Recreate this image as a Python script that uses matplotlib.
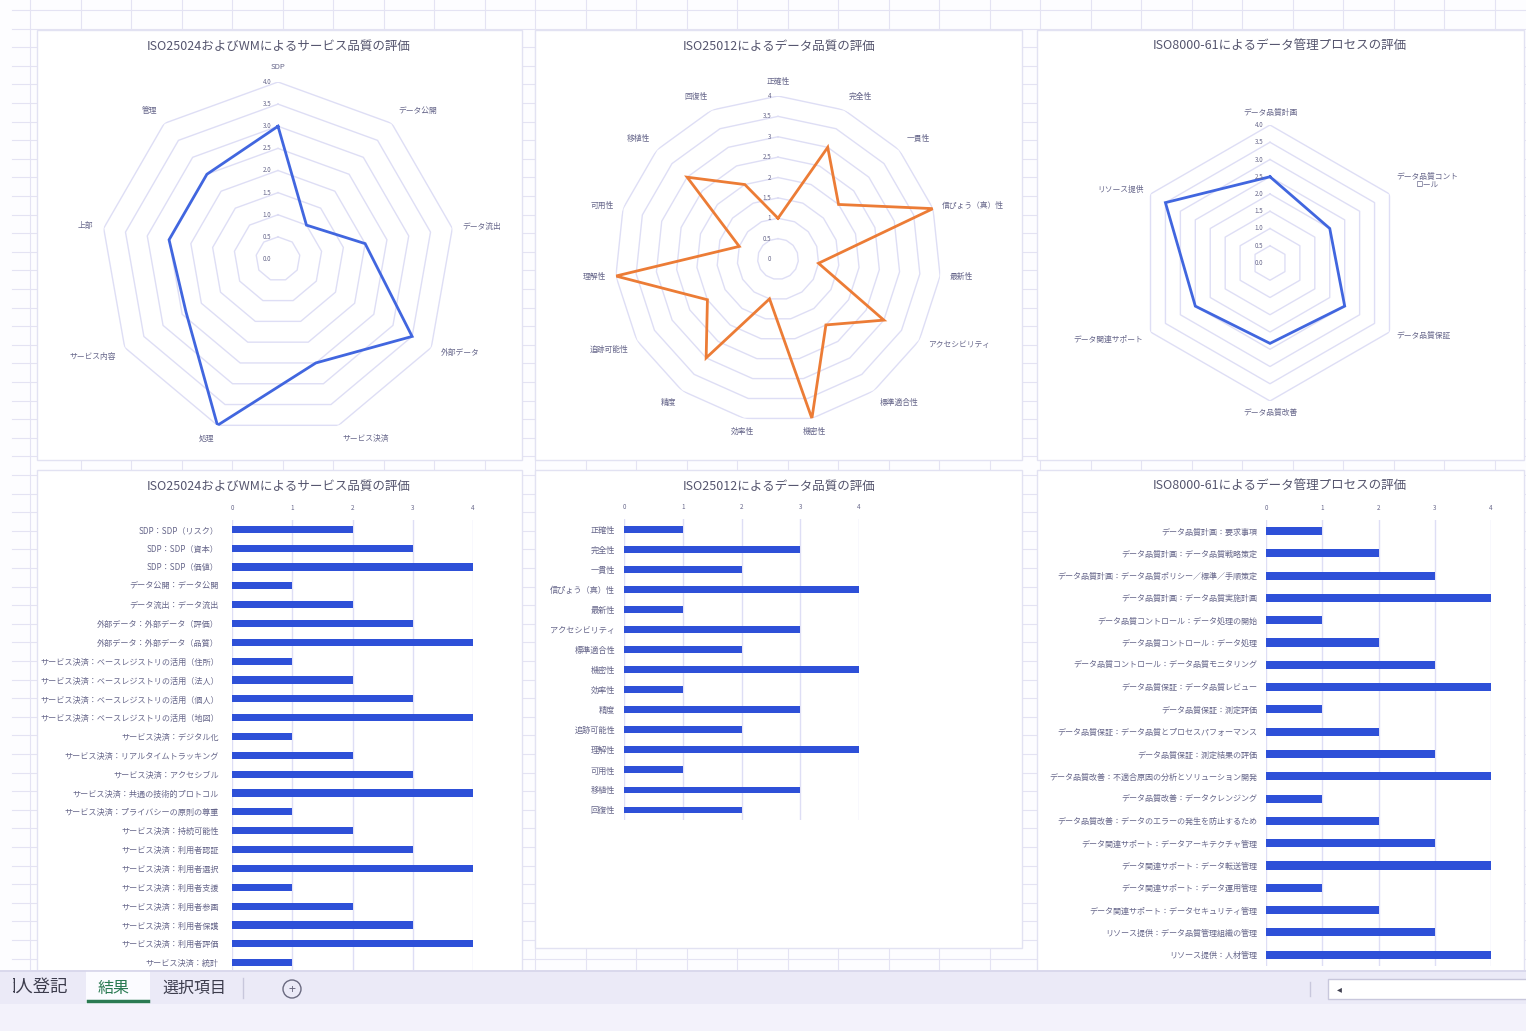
import matplotlib
matplotlib.use("Agg")
import matplotlib.pyplot as plt
import numpy as np
from matplotlib.patches import Rectangle, Circle

plt.rcParams['font.family'] = ['Noto Sans CJK JP', 'DejaVu Sans']

W, H = 1526, 1031

# ---------------- data ----------------
radar1_title = "ISO25024およびWMによるサービス品質の評価"
radar1_labels = ["SDP", "データ公開", "データ流出", "外部データ", "サービス決済",
                 "処理", "サービス内容", "上部", "管理"]
radar1_values = [3.0, 1.0, 2.0, 3.5, 2.5, 4.0, 2.4, 2.5, 2.5]
radar1_ticks = ["0.0", "0.5", "1.0", "1.5", "2.0", "2.5", "3.0", "3.5", "4.0"]

radar2_title = "ISO25012によるデータ品質の評価"
radar2_labels = ["正確性", "完全性", "一貫性", "信ぴょう（真）性", "最新性", "アクセシビリティ",
                 "標準適合性", "機密性", "効率性", "精度", "追跡可能性", "理解性",
                 "可用性", "移植性", "回復性"]
radar2_values = [1, 3, 2, 4, 1, 3, 2, 4, 1, 3, 2, 4, 1, 3, 2]
radar2_ticks = ["0", "0.5", "1", "1.5", "2", "2.5", "3", "3.5", "4"]

radar3_title = "ISO8000-61によるデータ管理プロセスの評価"
radar3_labels = ["データ品質計画", "データ品質コント\nロール", "データ品質保証",
                 "データ品質改善", "データ関連サポート", "リソース提供"]
radar3_values = [2.5, 2.0, 2.5, 2.33, 2.5, 3.5]
radar3_ticks = ["0.0", "0.5", "1.0", "1.5", "2.0", "2.5", "3.0", "3.5", "4.0"]

bar1_labels = ["SDP：SDP（リスク）", "SDP：SDP（資本）", "SDP：SDP（価値）",
               "データ公開：データ公開", "データ流出：データ流出",
               "外部データ：外部データ（評価）", "外部データ：外部データ（品質）",
               "サービス決済：ベースレジストリの活用（住所）",
               "サービス決済：ベースレジストリの活用（法人）",
               "サービス決済：ベースレジストリの活用（個人）",
               "サービス決済：ベースレジストリの活用（地図）",
               "サービス決済：デジタル化", "サービス決済：リアルタイムトラッキング",
               "サービス決済：アクセシブル", "サービス決済：共通の技術的プロトコル",
               "サービス決済：プライバシーの原則の尊重", "サービス決済：持続可能性",
               "サービス決済：利用者認証", "サービス決済：利用者選択",
               "サービス決済：利用者支援", "サービス決済：利用者参画",
               "サービス決済：利用者保護", "サービス決済：利用者評価",
               "サービス決済：統計"]
bar1_values = [2, 3, 4, 1, 2, 3, 4, 1, 2, 3, 4, 1, 2, 3, 4, 1, 2, 3, 4, 1, 2, 3, 4, 1]

bar2_labels = radar2_labels
bar2_values = radar2_values

bar3_labels = ["データ品質計画：要求事項", "データ品質計画：データ品質戦略策定",
               "データ品質計画：データ品質ポリシー／標準／手順策定",
               "データ品質計画：データ品質実施計画",
               "データ品質コントロール：データ処理の開始",
               "データ品質コントロール：データ処理",
               "データ品質コントロール：データ品質モニタリング",
               "データ品質保証：データ品質レビュー", "データ品質保証：測定評価",
               "データ品質保証：データ品質とプロセスパフォーマンス",
               "データ品質保証：測定結果の評価",
               "データ品質改善：不適合原因の分析とソリューション開発",
               "データ品質改善：データクレンジング",
               "データ品質改善：データのエラーの発生を防止するため",
               "データ関連サポート：データアーキテクチャ管理",
               "データ関連サポート：データ転送管理",
               "データ関連サポート：データ運用管理",
               "データ関連サポート：データセキュリティ管理",
               "リソース提供：データ品質管理組織の管理", "リソース提供：人材管理"]
bar3_values = [1, 2, 3, 4, 1, 2, 3, 4, 1, 2, 3, 4, 1, 2, 3, 4, 1, 2, 3, 4]

bar_ticks = [0, 1, 2, 3, 4]

# ---------------- style ----------------
GRID = "#e4e3f3"
RING = "#dedef5"
TXT = "#66668a"
TITLE = "#55556e"
BLUE_LINE = "#4166df"
BAR = "#2e50d8"
ORANGE = "#ec7c36"
PANEL_EDGE = "#e2e2f2"

fig = plt.figure(figsize=(W / 100, H / 100), dpi=100)
fig.patch.set_facecolor("#fdfdff")


def fax(x0, y0, x1, y1):
    return [x0 / W, 1 - y1 / H, (x1 - x0) / W, (y1 - y0) / H]


bg = fig.add_axes([0, 0, 1, 1])
bg.set_xlim(0, W)
bg.set_ylim(H, 0)
bg.axis("off")

# spreadsheet grid
for x in np.arange(30, W, 50.5):
    bg.plot([x, x], [0, 972], color=GRID, lw=0.8, zorder=0)
for y in np.arange(10, 972, 18.6):
    bg.plot([12, W], [y, y], color=GRID, lw=0.8, zorder=0)

panels = [(37, 30, 522, 460), (535, 30, 1022, 460), (1037, 30, 1524, 460),
          (37, 470, 522, 990), (535, 470, 1022, 948), (1037, 470, 1524, 990)]
for (x0, y0, x1, y1) in panels:
    bg.add_patch(Rectangle((x0, y0), x1 - x0, y1 - y0, facecolor="white",
                           edgecolor=PANEL_EDGE, lw=1.0, zorder=1))

titles = [(279, 46, radar1_title), (779, 46, radar2_title), (1280, 46, radar3_title),
          (279, 486, radar1_title), (779, 486, radar2_title), (1280, 486, radar3_title)]
for (x, y, t) in titles:
    bg.text(x, y, t, ha="center", va="center", fontsize=9.0, color=TITLE, zorder=2)


def radar(cx, cy, rpx, labels, values, ticks, color, lab_r, tick_off):
    ax = fig.add_axes(fax(cx - rpx, cy - rpx, cx + rpx, cy + rpx), projection="polar")
    ax.set_theta_zero_location("N")
    ax.set_theta_direction(-1)
    ax.set_ylim(0, 4)
    ax.axis("off")
    ax.patch.set_visible(False)
    n = len(labels)
    ang = np.linspace(0, 2 * np.pi, n, endpoint=False)
    closed = np.append(ang, ang[0])
    levels = np.arange(0.5, 4.01, 0.5)
    for r in levels:
        ax.plot(closed, [r] * (n + 1), color=RING, lw=1.0, zorder=1)
    vals = list(values) + [values[0]]
    ax.plot(closed, vals, color=color, lw=2.0, zorder=3, solid_joinstyle="miter")
    for r, t in zip(np.arange(0, 4.01, 0.5), ticks):
        ax.annotate(t, xy=(0, r), xytext=(-tick_off, 0), textcoords="offset points",
                    ha="right", va="center", fontsize=4.5, color=TXT, zorder=4)
    for a, lab in zip(ang, labels):
        s, c = np.sin(a), np.cos(a)
        ha = "left" if s > 0.3 else ("right" if s < -0.3 else "center")
        va = "bottom" if c > 0.5 else ("top" if c < -0.5 else "center")
        ax.text(a, 4 * lab_r, lab, ha=ha, va=va, fontsize=5.6, color=TXT,
                multialignment="center")
    return ax


radar(278, 259, 177, radar1_labels, radar1_values, radar1_ticks, BLUE_LINE, 1.06, 5)
radar(778, 259, 163, radar2_labels, radar2_values, radar2_ticks, ORANGE, 1.06, 5)
radar(1270, 263, 138, radar3_labels, radar3_values, radar3_ticks, BLUE_LINE, 1.06, 5)


def barchart(x0, x1, y_first, spacing, labels, values, hfrac, ypad, fs):
    n = len(labels)
    ytop = y_first - spacing / 2
    ybot = y_first + (n - 0.5) * spacing
    ax = fig.add_axes(fax(x0, ytop, x1, ybot))
    ax.patch.set_visible(False)
    ax.barh(np.arange(n), values, height=hfrac, color=BAR, zorder=3)
    ax.set_xlim(0, 4)
    ax.set_ylim(n - 0.5, -0.5)
    ax.set_yticks(np.arange(n))
    ax.set_yticklabels(labels, fontsize=fs, color=TXT)
    ax.xaxis.tick_top()
    ax.set_xticks(bar_ticks)
    ax.set_xticklabels([str(t) for t in bar_ticks], fontsize=4.5, color=TXT)
    ax.tick_params(axis="x", length=0, pad=6)
    ax.tick_params(axis="y", length=0, pad=ypad)
    ax.grid(axis="x", color=RING, lw=1.0, zorder=0)
    for sp in ax.spines.values():
        sp.set_visible(False)
    return ax


barchart(232, 473, 529.3, 18.84, bar1_labels, bar1_values, 0.38, 9.5, 5.85)
barchart(624, 859, 529.3, 20.05, bar2_labels, bar2_values, 0.34, 6.5, 5.9)
barchart(1266, 1491, 531, 22.3, bar3_labels, bar3_values, 0.36, 6.5, 5.8)

# ---------------- sheet tab bar ----------------
tb = fig.add_axes([0, 0, 1, 61 / H])
tb.set_xlim(0, W)
tb.set_ylim(1031, 970)
tb.axis("off")
tb.add_patch(Rectangle((0, 970), W, 61, facecolor="#f3f2fb", edgecolor="none"))
tb.add_patch(Rectangle((0, 971), W, 33, facecolor="#ebeaf7", edgecolor="none"))
tb.plot([0, W], [971, 971], color="#d6d5ea", lw=1.2)
tb.add_patch(Rectangle((86, 971), 64, 33, facecolor="#fbfbff", edgecolor="none"))
tb.plot([88, 148], [1001, 1001], color="#2a7a52", lw=2.5)
tb.text(68, 988, "個人登記", ha="right", va="center", fontsize=12.5, color="#3c3c4c")
tb.add_patch(Rectangle((0, 972), 13, 32, facecolor="#ebeaf7", edgecolor="none", zorder=5))
tb.text(114, 988, "結果", ha="center", va="center", fontsize=11.5, color="#2a7a52")
tb.text(194, 988, "選択項目", ha="center", va="center", fontsize=11.5, color="#3c3c4c")
tb.plot([243, 243], [978, 998], color="#c8c7dc", lw=1)
tb.add_patch(Circle((292, 989), 9, facecolor="none", edgecolor="#6a6a80", lw=1))
tb.text(292, 989, "+", ha="center", va="center", fontsize=9, color="#6a6a80")
tb.plot([1310, 1310], [982, 996], color="#c8c7dc", lw=1)
tb.add_patch(Rectangle((1328, 979), 200, 20, facecolor="white", edgecolor="#c8c7dc", lw=1))
tb.text(1339, 989, "◂", ha="center", va="center", fontsize=7, color="#404050")

fig.savefig("out.png", dpi=100, facecolor=fig.get_facecolor())
